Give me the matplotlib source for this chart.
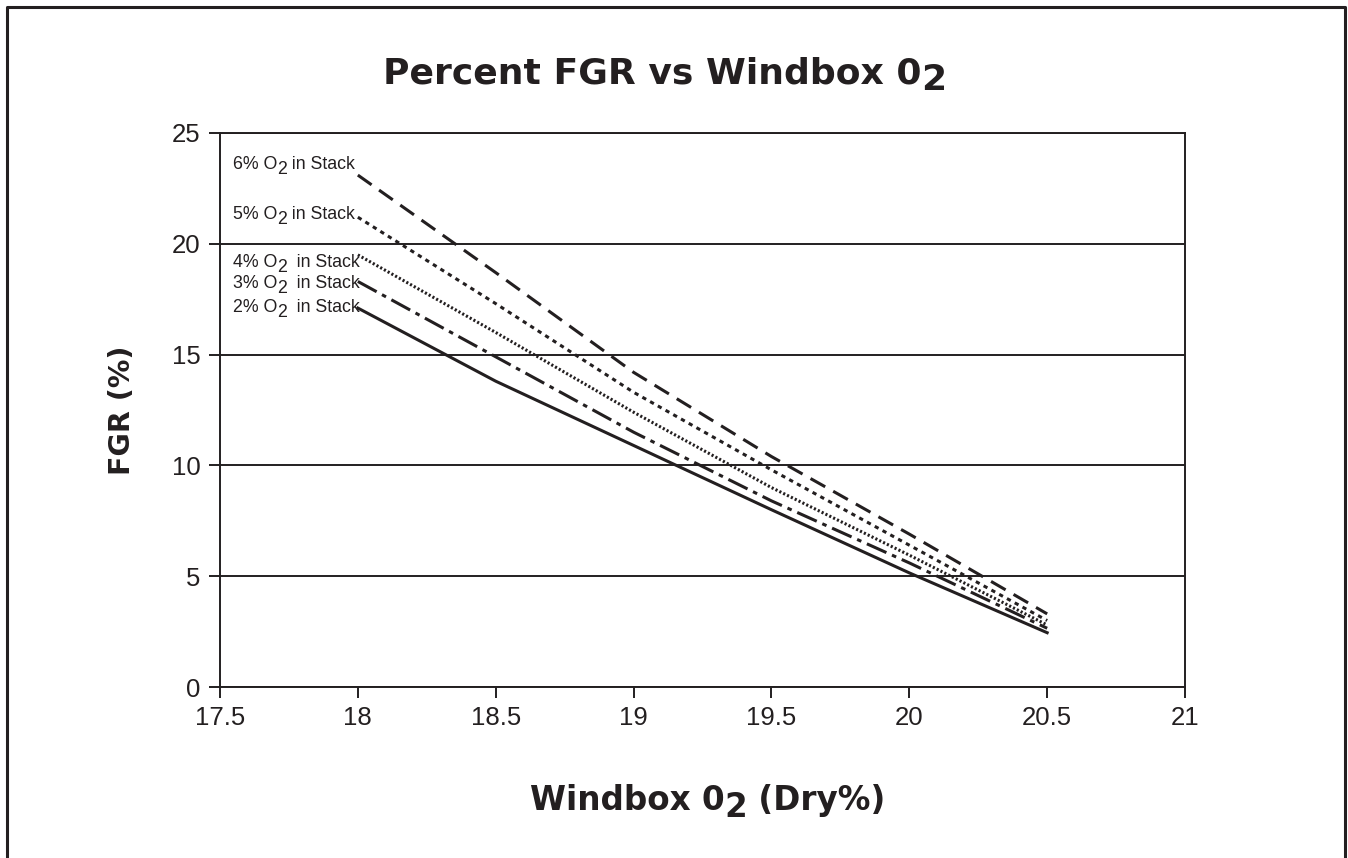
import matplotlib
matplotlib.use("Agg")
import matplotlib.pyplot as plt
from matplotlib.lines import Line2D

# windbox O2 (dry %) and FGR (%) for each stack O2 level
windbox_o2 = [18.0, 18.5, 19.0, 19.5, 20.0, 20.5]
fgr_6 = [23.1, 18.7, 14.2, 10.4, 6.9, 3.3]
fgr_5 = [21.2, 17.3, 13.3, 9.8, 6.4, 3.0]
fgr_4 = [19.5, 16.0, 12.4, 9.0, 5.95, 2.8]
fgr_3 = [18.3, 14.9, 11.5, 8.4, 5.6, 2.65]
fgr_2 = [17.1, 13.8, 10.9, 8.0, 5.15, 2.45]

# labels split as (before subscript, subscript, after)
labels = [("6% O", "2", " in Stack"), ("5% O", "2", " in Stack"),
          ("4% O", "2", "  in Stack"), ("3% O", "2", "  in Stack"),
          ("2% O", "2", "  in Stack")]
label_y = [23.37, 21.12, 18.95, 18.0, 16.92]

xticks = [17.5, 18, 18.5, 19, 19.5, 20, 20.5, 21]
yticks = [0, 5, 10, 15, 20, 25]

ink = "#231f20"
plt.rcParams["font.family"] = ["Liberation Sans", "DejaVu Sans"]

fig = plt.figure(figsize=(13.48, 8.58), dpi=100)
ax = fig.add_axes([0.1632, 0.1993, 0.7159, 0.6457])


def sub_text(first, parts, drop, **kw):
    # chain text pieces, with the middle one lowered like a subscript
    prev = first
    offs = [-drop, drop]
    for p, dy in zip(parts, offs):
        prev = ax.annotate(p, xy=(1, 0), xycoords=prev, xytext=(0, dy),
                           textcoords="offset points", ha="left", va="bottom",
                           annotation_clip=False, **kw)


styles = [(0, (5.5, 3)), (0, (1.4, 1.5)), (0, (0.7, 0.7)), (0, (7, 2, 1.5, 2)), "-"]
series = [fgr_6, fgr_5, fgr_4, fgr_3, fgr_2]
for s, ls in zip(series, styles):
    ax.plot(windbox_o2, s, color=ink, lw=2.2, linestyle=ls, dash_capstyle="butt")

lab_kw = dict(fontsize=12.8, color=ink)
for lab, yy in zip(labels, label_y):
    t = ax.text(17.547, yy, lab[0], va="baseline", ha="left", **lab_kw)
    sub_text(t, lab[1:], 3.5, **lab_kw)

ax.set_xlim(17.5, 21)
ax.set_ylim(0, 25)
ax.set_xticks(xticks)
ax.set_xticklabels(["17.5", "18", "18.5", "19", "19.5", "20", "20.5", "21"])
ax.set_yticks(yticks)
ax.yaxis.grid(True, color=ink, lw=1.4)
ax.tick_params(direction="out", length=8, width=1.4, colors=ink, labelsize=18.5, pad=6)
for sp in ax.spines.values():
    sp.set_color(ink)
    sp.set_linewidth(1.4)

head_kw = dict(fontweight="bold", family="DejaVu Sans", color=ink)
t = fig.text(0.284, 0.903, "Percent FGR vs Windbox 0", ha="left", va="baseline",
             fontsize=26, **head_kw)
sub_text(t, ["2"], 5, fontsize=26, **head_kw)
t = fig.text(0.393, 0.056, "Windbox 0", ha="left", va="baseline", fontsize=23.5, **head_kw)
sub_text(t, ["2", " (Dry%)"], 5, fontsize=23.5, **head_kw)
fig.text(0.0905, 0.522, "FGR (%)", ha="center", va="center", rotation=90,
         fontsize=20.5, **head_kw)

# outer frame (left, top, right)
fig.add_artist(Line2D([0.0055, 0.0055, 0.9975, 0.9975], [0.0, 0.9915, 0.9915, 0.0],
                      color=ink, lw=2.2, transform=fig.transFigure))

fig.savefig("out.png", dpi=100)
